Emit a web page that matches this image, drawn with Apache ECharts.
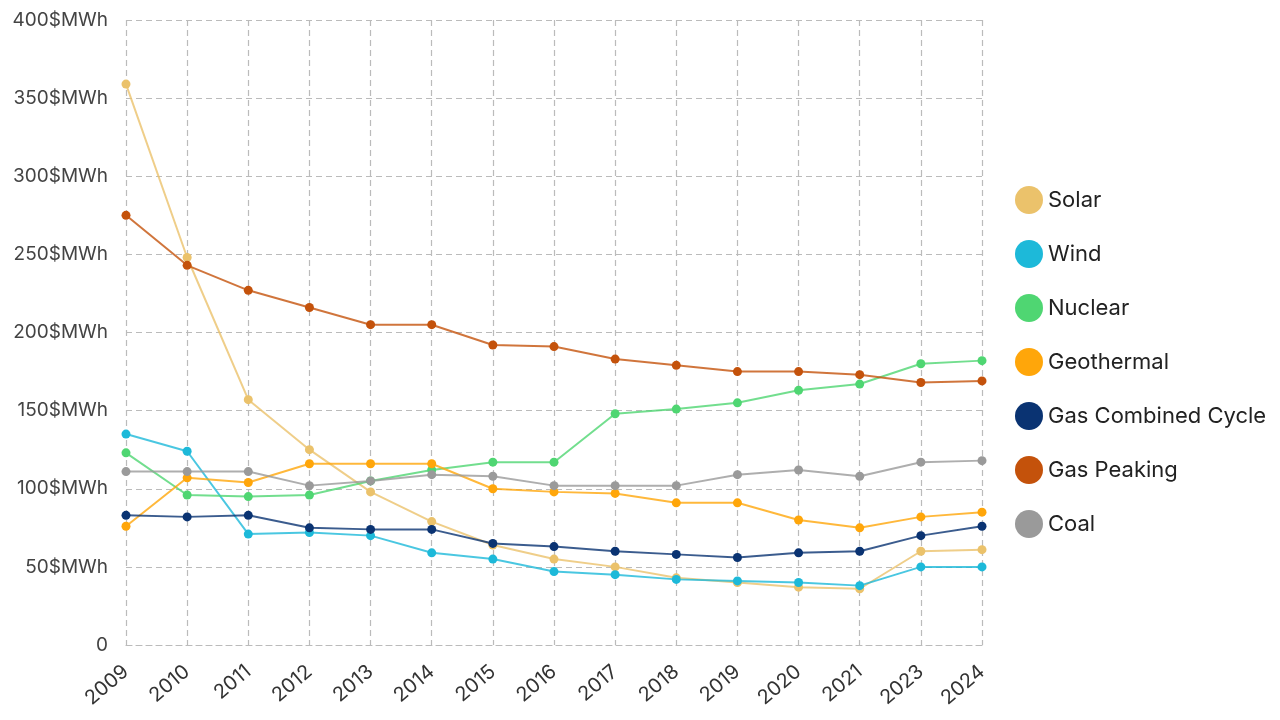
<!DOCTYPE html>
<html><head><meta charset="utf-8">
<script src="https://cdn.jsdelivr.net/npm/echarts@6/dist/echarts.min.js"></script>
<style>html,body{margin:0;padding:0;background:#fff}#c{width:1280px;height:720px}</style>
</head><body><div id="c"></div>
<script>
const years = ['2009','2010','2011','2012','2013','2014','2015','2016','2017','2018','2019','2020','2021','2023','2024'];
const yTicks = [0,50,100,150,200,250,300,350,400];
const solar = [359,248,157,125,98,79,64,55,50,43,40,37,36,60,61];
const wind = [135,124,71,72,70,59,55,47,45,42,41,40,38,50,50];
const nuclear = [123,96,95,96,105,112,117,117,148,151,155,163,167,180,182];
const geothermal = [76,107,104,116,116,116,100,98,97,91,91,80,75,82,85];
const gasCombined = [83,82,83,75,74,74,65,63,60,58,56,59,60,70,76];
const gasPeaking = [275,243,227,216,205,205,192,191,183,179,175,175,173,168,169];
const coal = [111,111,111,102,105,109,108,102,102,102,109,112,108,117,118];

const seriesDefs = [
  ['Solar', solar, '#EBC26B'],
  ['Wind', wind, '#1DB9D9'],
  ['Nuclear', nuclear, '#4FD672'],
  ['Geothermal', geothermal, '#FFA60A'],
  ['Gas Combined Cycle', gasCombined, '#0A3372'],
  ['Gas Peaking', gasPeaking, '#C4520B'],
  ['Coal', coal, '#9A9A9A']
];
const font = 'Inter, "Noto Sans", sans-serif';
const chart = echarts.init(document.getElementById('c'), null, {renderer:'canvas'});
chart.setOption({
  animation:false,
  backgroundColor:'#fff',
  grid:{left:126,right:298,top:20,bottom:75,containLabel:false},
  legend:{
    orient:'vertical', left:1010, top:181, icon:'circle', itemWidth:28, itemHeight:28, itemGap:26,
    textStyle:{fontFamily:font, fontSize:22, color:'#222', padding:[0,0,0,0]},
    data: seriesDefs.map(s=>s[0])
  },
  xAxis:{
    type:'category', data:years, boundaryGap:false,
    axisLine:{show:true, lineStyle:{color:'#bbb', type:[6,4], width:1.2}},
    axisTick:{show:false},
    axisLabel:{rotate:40, fontFamily:font, fontSize:20, color:'#333', margin:24, interval:0},
    splitLine:{show:true, lineStyle:{color:'#bbb', type:[6,4], width:1.2}}
  },
  yAxis:{
    type:'value', min:0, max:400, interval:50,
    axisLine:{show:false},
    axisTick:{show:false},
    axisLabel:{fontFamily:font, fontSize:19, color:'#444', margin:18,
      formatter:v=> yTicks.includes(v) ? (v===0?'0':v+'$MWh') : ''},
    splitLine:{show:true, lineStyle:{color:'#bbb', type:[6,4], width:1.2}}
  },
  series: seriesDefs.map(([name,data,color])=>({
    name, type:'line', data, color,
    symbol:'circle', symbolSize:9,
    itemStyle:{color},
    lineStyle:{color, width:2, opacity:0.8},
    emphasis:{disabled:true}
  }))
});
</script></body></html>
